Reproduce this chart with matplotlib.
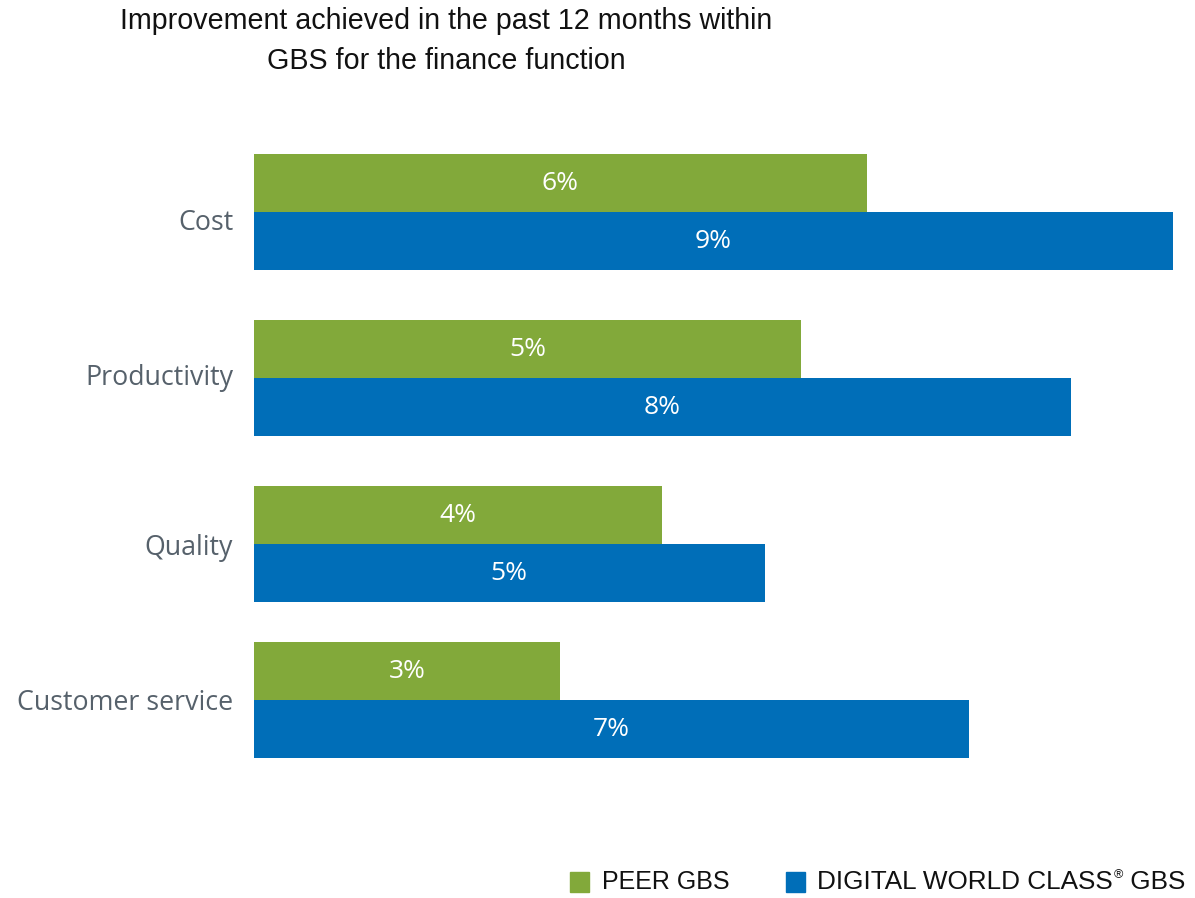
import matplotlib
matplotlib.use("Agg")
import matplotlib.pyplot as plt
from matplotlib.patches import Rectangle
from matplotlib import font_manager

categories = ["Cost", "Productivity", "Quality", "Customer service"]
peer_values = [6.0, 5.36, 4.0, 3.0]
dwc_values = [9.0, 8.0, 5.0, 7.0]
peer_labels = ["6%", "5%", "4%", "3%"]
dwc_labels = ["9%", "8%", "5%", "7%"]
series_names = ["PEER GBS", "DIGITAL WORLD CLASS", "\u00ae", " GBS"]

GREEN = "#82A93A"
BLUE = "#006EB8"
CAT_COLOR = "#56616B"

names = {f.name for f in font_manager.fontManager.ttflist}
narrow = "Liberation Sans Narrow" if "Liberation Sans Narrow" in names else "Liberation Sans"
regular = "Open Sans"

W, H = 1195, 898
fig = plt.figure(figsize=(W / 100, H / 100), dpi=100)
ax = fig.add_axes([254 / W, 1 - 758 / H, (1173 - 254) / W, (758 - 154) / H])

group_centers = [58, 224, 390, 546]
label_pos = [66, 221, 390, 545]
bar_h = 58
ax.set_xlim(0, 9.0)
ax.set_ylim(604, 0)

for i, c in enumerate(group_centers):
    ax.barh(c - bar_h / 2, peer_values[i], height=bar_h, color=GREEN, edgecolor="none")
    ax.barh(c + bar_h / 2, dwc_values[i], height=bar_h, color=BLUE, edgecolor="none")
    ax.text(peer_values[i] / 2, c - bar_h / 2, peer_labels[i], color="white",
            ha="center", va="center", fontsize=19, family=regular)
    ax.text(dwc_values[i] / 2, c + bar_h / 2, dwc_labels[i], color="white",
            ha="center", va="center", fontsize=19, family=regular)

ax.set_yticks(label_pos)
ax.set_yticklabels(categories, fontsize=19.3, color=CAT_COLOR, family=regular)
ax.tick_params(axis="y", length=0, pad=15)
ax.set_xticks([])
for s in ax.spines.values():
    s.set_visible(False)

fig.text(446 / W, 1 - 21 / H, "Improvement achieved in the past 12 months within",
         ha="center", va="center", fontsize=20.6, family=narrow, color="#111111")
fig.text(446 / W, 1 - 61 / H, "GBS for the finance function",
         ha="center", va="center", fontsize=20.6, family=narrow, color="#111111")

# legend
fig.patches.append(Rectangle((570 / W, 1 - 892 / H), 19 / W, 20 / H,
                             transform=fig.transFigure, color=GREEN, figure=fig))
fig.patches.append(Rectangle((786 / W, 1 - 892 / H), 19 / W, 20 / H,
                             transform=fig.transFigure, color=BLUE, figure=fig))
fig.text(602 / W, 1 - 882 / H, series_names[0], ha="left", va="center",
         fontsize=18, family=narrow, color="#111111")
t1 = fig.text(817 / W, 1 - 882 / H, series_names[1], ha="left", va="center",
              fontsize=18.8, family=narrow, color="#111111")
fig.canvas.draw()
r = fig.canvas.get_renderer()
bb = t1.get_window_extent(r)
t2 = fig.text((bb.x1 + 1) / W, 1 - 875 / H, series_names[2], ha="left", va="center",
              fontsize=9, family=narrow, color="#111111")
bb2 = t2.get_window_extent(r)
fig.text(bb2.x1 / W, 1 - 882 / H, series_names[3], ha="left", va="center",
         fontsize=18.8, family=narrow, color="#111111")

fig.savefig("out.png", dpi=100, facecolor="white")
